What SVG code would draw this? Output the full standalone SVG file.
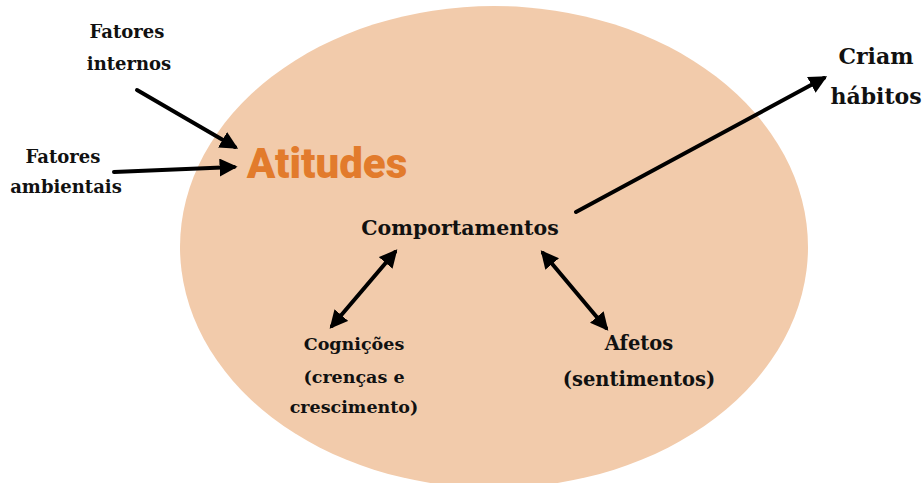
<svg xmlns="http://www.w3.org/2000/svg" width="924" height="483" viewBox="0 0 924 483">
<style>
.t{font-family:"DejaVu Serif","Liberation Serif",serif;font-weight:bold;fill:#111;text-anchor:middle}
.s{font-size:18px}
.g{font-size:17.5px}
.m{font-size:19.5px}
.c{stroke:#000;stroke-width:4;fill:none;stroke-linecap:round}
</style>
<defs>
<marker id="ah" viewBox="0 0 10 10" refX="8" refY="5" markerWidth="18" markerHeight="18" markerUnits="userSpaceOnUse" orient="auto-start-reverse">
<path d="M0,0 L10,5 L0,10 Z" fill="#000"/>
</marker>
</defs>
<rect width="924" height="483" fill="#fff"/>
<g id="ellipse"><ellipse cx="494" cy="247" rx="314" ry="241" fill="#f2cbab"/></g>
<g id="connectors">
<line class="c" x1="137" y1="90" x2="235" y2="147" marker-end="url(#ah)"/>
<line class="c" x1="114" y1="172" x2="234" y2="167" marker-end="url(#ah)"/>
<line class="c" x1="576" y1="212" x2="824" y2="78" marker-end="url(#ah)"/>
<line class="c" x1="395" y1="252" x2="332" y2="326" marker-start="url(#ah)" marker-end="url(#ah)"/>
<line class="c" x1="543" y1="253" x2="606" y2="328" marker-start="url(#ah)" marker-end="url(#ah)"/>
</g>
<g id="fatores-internos"><text class="t s" x="127" y="38">Fatores</text><text class="t s" x="129" y="70">internos</text></g>
<g id="fatores-ambientais"><text class="t s" x="63" y="163">Fatores</text><text class="t s" x="66" y="193">ambientais</text></g>
<g id="atitudes"><text x="327" y="178" font-family="Roboto,'DejaVu Sans',sans-serif" font-weight="900" font-size="42" fill="#e27b2c" text-anchor="middle">Atitudes</text></g>
<g id="comportamentos"><text class="t" x="460" y="235" font-size="20.5">Comportamentos</text></g>
<g id="cognicoes"><text class="t g" x="354" y="350">Cognições</text><text class="t g" x="354" y="383">(crenças e</text><text class="t g" x="354" y="413">crescimento)</text></g>
<g id="afetos"><text class="t m" x="639" y="350">Afetos</text><text class="t m" x="639" y="386">(sentimentos)</text></g>
<g id="criam"><text class="t" x="876" y="64" font-size="22">Criam</text><text class="t" x="876" y="104" font-size="22">hábitos</text></g>
</svg>
